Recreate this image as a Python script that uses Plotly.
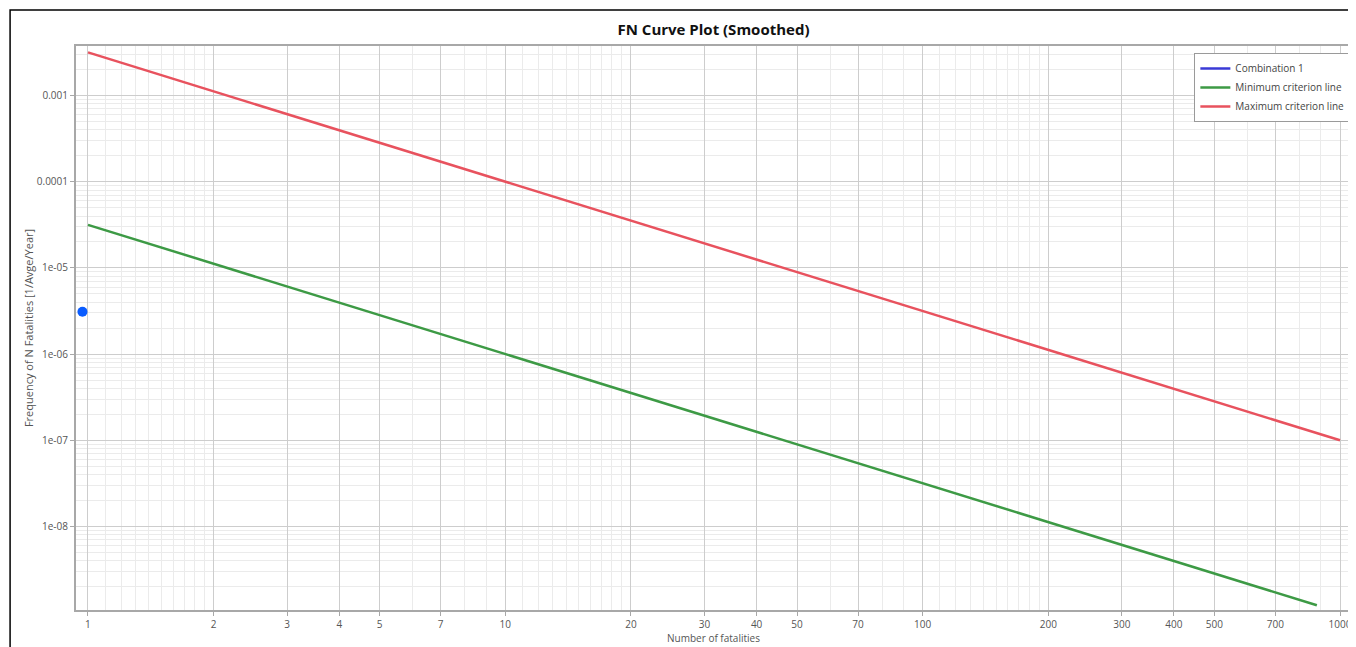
import plotly.graph_objects as go

# ---- data ----
combo_n = [0.97]
combo_f = [3.1e-6]

min_n = [1, 880]
min_f = [3.16e-5, 1.22e-9]

max_n = [1, 1000]
max_f = [3.16e-3, 1.0e-7]

x_tickvals = [1, 2, 3, 4, 5, 7, 10, 20, 30, 40, 50, 70, 100, 200, 300, 400, 500, 700, 1000]
x_ticktext = ["1", "2", "3", "4", "5", "7", "10", "20", "30", "40", "50", "70",
              "100", "200", "300", "400", "500", "700", "1000"]
y_tickvals = [1e-3, 1e-4, 1e-5, 1e-6, 1e-7, 1e-8]
y_ticktext = ["0.001", "0.0001", "1e-05", "1e-06", "1e-07", "1e-08"]

title = "FN Curve Plot (Smoothed)"
x_title = "Number of fatalities"
y_title = "Frequency of N Fatalities [1/Avge/Year]"

# minor grid positions
x_minor_mult = [1.1, 1.2, 1.3, 1.4, 1.5, 1.6, 1.7, 1.8, 1.9, 6, 8, 9]
x_minor = [m * 10 ** k for k in range(0, 3) for m in x_minor_mult]
y_minor = [m * 10.0 ** k for k in range(-9, -2) for m in range(2, 10)]

fig = go.Figure()
fig.add_trace(go.Scatter(x=combo_n, y=combo_f, mode="lines", name="Combination 1",
                         line=dict(color="#3a3ad6", width=2.5)))
fig.add_trace(go.Scatter(x=min_n, y=min_f, mode="lines", name="Minimum criterion line",
                         line=dict(color="#3d9a45", width=2.5)))
fig.add_trace(go.Scatter(x=max_n, y=max_f, mode="lines", name="Maximum criterion line",
                         line=dict(color="#e8525e", width=2.5)))
fig.add_trace(go.Scatter(x=combo_n, y=combo_f, mode="markers", showlegend=False,
                         marker=dict(color="#0a5cff", size=10), cliponaxis=False))

axis_common = dict(
    showline=True, mirror=True, linecolor="#a8a8a8", linewidth=2,
    ticks="outside", ticklen=4, tickcolor="#a8a8a8",
    showgrid=True, gridcolor="#cdcdcd", gridwidth=1.2,
    tickfont=dict(size=10, color="#555555"),
    zeroline=False,
)

fig.update_layout(
    width=1348, height=639,
    margin=dict(l=68, r=3, t=38, b=37),
    paper_bgcolor="white", plot_bgcolor="white",
    font=dict(family="Open Sans, Noto Sans, sans-serif", color="#444444"),
    title=dict(text="<b>" + title + "</b>", x=0.5, xref="paper", xanchor="center",
               y=0.9656, yanchor="middle", font=dict(size=15, color="#111111")),
    xaxis=dict(type="log", range=[-0.0287, 3.0263], tickmode="array",
               tickvals=x_tickvals, ticktext=x_ticktext,
               title=dict(text=x_title, font=dict(size=10, color="#555555"), standoff=4),
               minor=dict(tickmode="array", tickvals=x_minor, showgrid=True,
                          gridcolor="#ebebeb", gridwidth=1, ticks=""),
               **axis_common),
    yaxis=dict(type="log", range=[-8.9687, -2.4258], tickmode="array",
               tickvals=y_tickvals, ticktext=y_ticktext,
               title=dict(text=y_title, font=dict(size=11, color="#555555"), standoff=1),
               minor=dict(tickmode="array", tickvals=y_minor, showgrid=True,
                          gridcolor="#ebebeb", gridwidth=1, ticks=""),
               **axis_common),
    legend=dict(x=0.9995, xanchor="right", y=0.9876, yanchor="top",
                bgcolor="white", bordercolor="#9a9a9a", borderwidth=1,
                font=dict(size=10, color="#444444"), itemwidth=30),
    shapes=[dict(type="rect", xref="paper", yref="paper",
                 x0=-0.0517, x1=1.02, y0=-0.3, y1=1.0638,
                 line=dict(color="black", width=1.5), layer="above")],
)

fig.write_html("out.html")
